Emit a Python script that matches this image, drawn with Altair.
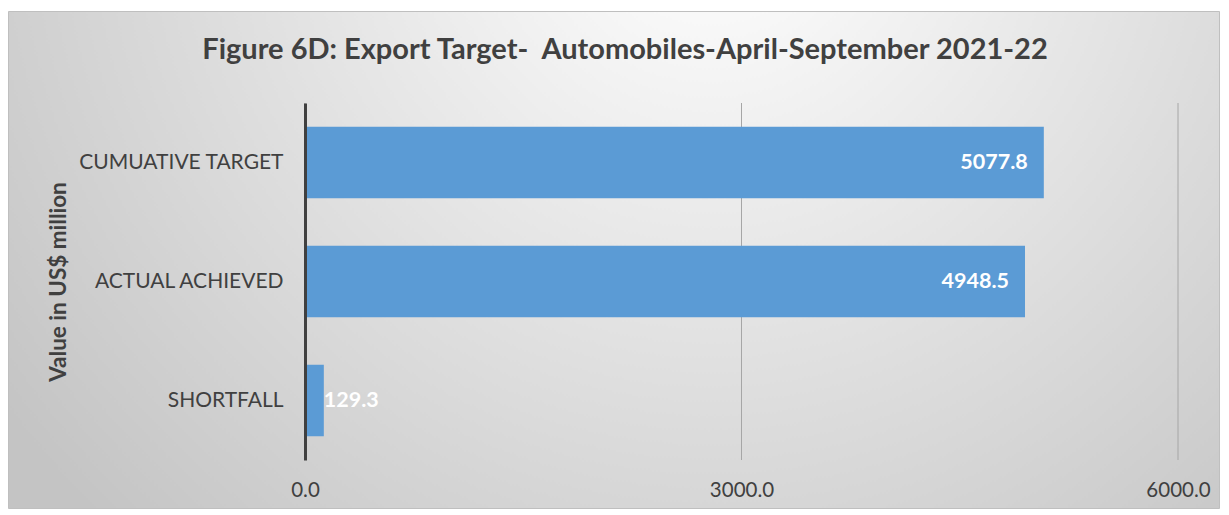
import altair as alt
import pandas as pd

categories = ["CUMUATIVE TARGET", "ACTUAL ACHIEVED", "SHORTFALL"]
values = [5077.8, 4948.5, 129.3]
tick_values = [0, 3000, 6000]
title_text = "Figure 6D: Export Target-\u00a0 Automobiles-April-September 2021-22"
y_title = "Value in US$ million"

W, H = 873, 357
PAD = {"left": 297, "top": 95, "right": 43, "bottom": 50}

df = pd.DataFrame({"category": categories, "value": values})
grid_df = pd.DataFrame({"v": tick_values})

FONT = "Lato"
TXT = "#404040"

x_scale = alt.Scale(domain=[0, 6000], nice=False)
y_scale = alt.Scale(domain=categories, paddingInner=0.4, paddingOuter=0.2)

x_axis = alt.Axis(
    values=tick_values,
    format=".1f",
    grid=False,
    domain=False,
    ticks=False,
    labelFont=FONT,
    labelFontSize=20.5,
    labelColor=TXT,
    labelPadding=20,
    labelFlush=False,
    title=None,
    zindex=1,
)

bg = alt.Chart(alt.Data(values=[{"a": 1}])).mark_rect(
    fill={
        "gradient": "radial",
        "x1": 0.58, "y1": 0.2, "r1": 0.0,
        "x2": 0.58, "y2": 0.2, "r2": 0.72,
        "stops": [
            {"offset": 0, "color": "#fefefe"},
            {"offset": 0.12, "color": "#f9f9f9"},
            {"offset": 1, "color": "#c4c4c4"},
        ],
    },
    stroke="#bfbfbf",
    strokeWidth=1,
).encode(
    x=alt.value(-PAD["left"] + 0.5),
    x2=alt.value(W + PAD["right"] - 1.5),
    y=alt.value(-PAD["top"] + 3.5),
    y2=alt.value(H + PAD["bottom"] - 1.5),
)

title = alt.Chart(alt.Data(values=[{"t": title_text}])).mark_text(
    font=FONT, fontSize=29, fontWeight="bold", color=TXT,
    align="center", baseline="middle",
).encode(
    text="t:N",
    x=alt.value(320),
    y=alt.value(-53),
)

grid = alt.Chart(grid_df).mark_rule(color="#a6a6a6", strokeWidth=1).encode(
    x=alt.X("v:Q", scale=x_scale, axis=x_axis),
    y=alt.value(0),
    y2=alt.value(H),
)

base = alt.Chart(df)

bars = base.mark_bar(color="#5B9BD5").encode(
    x=alt.X("value:Q", scale=x_scale, axis=x_axis),
    y=alt.Y(
        "category:N",
        scale=y_scale,
        sort=categories,
        axis=alt.Axis(
            title=y_title,
            titleFont=FONT,
            titleFontSize=22.5,
            titleFontWeight="bold",
            titleColor=TXT,
            titleX=-235,
            labelFont=FONT,
            labelFontSize=21,
            labelColor=TXT,
            labelPadding=22,
            labelLimit=400,
            ticks=False,
            domainColor="#404040",
            domainWidth=3,
            zindex=1,
        ),
    ),
)

labels_in = base.transform_filter("datum.value >= 1000").mark_text(
    align="right", baseline="middle", dx=-16, font=FONT, fontSize=21.5,
    fontWeight="bold", color="white",
).encode(
    x=alt.X("value:Q", scale=x_scale),
    y=alt.Y("category:N", scale=y_scale, sort=categories),
    text=alt.Text("value:Q", format=".1f"),
)

labels_out = base.transform_filter("datum.value < 1000").mark_text(
    align="left", baseline="middle", dx=0, font=FONT, fontSize=21.5,
    fontWeight="bold", color="white",
).encode(
    x=alt.X("value:Q", scale=x_scale),
    y=alt.Y("category:N", scale=y_scale, sort=categories),
    text=alt.Text("value:Q", format=".1f"),
)

chart = alt.layer(bg, title, grid, bars, labels_in, labels_out).properties(
    width=W,
    height=H,
    padding=PAD,
    autosize=alt.AutoSizeParams(type="none"),
).configure_view(stroke=None).configure(background="white")

chart.save("out.html", embed_options={"renderer": "svg", "actions": False})
